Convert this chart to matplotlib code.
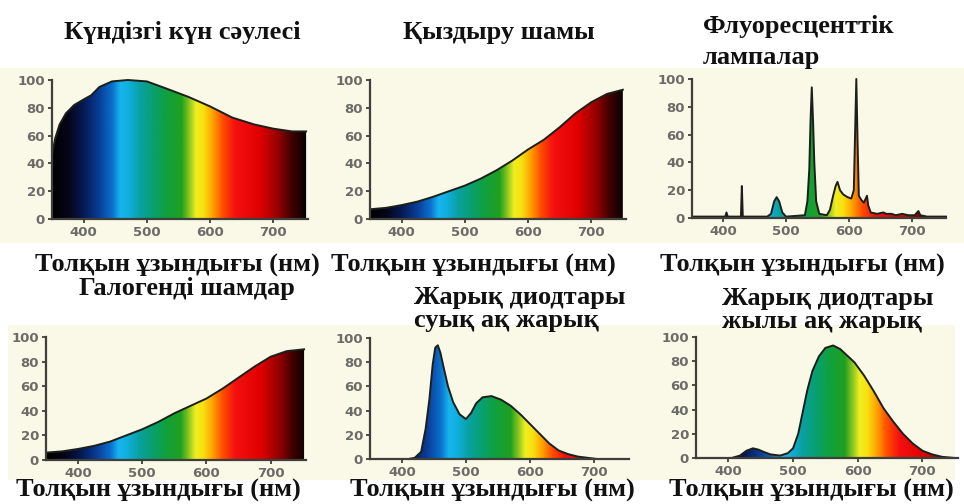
import matplotlib
matplotlib.use("Agg")
import matplotlib.pyplot as plt
import numpy as np
from matplotlib.colors import LinearSegmentedColormap
from matplotlib.patches import Rectangle

# spectra (wavelength nm, relative power %)
day_nm = [350, 355, 362, 372, 385, 400, 412, 425, 445, 470, 500, 530, 565, 600, 635, 670, 700, 730, 752]
day_val = [46, 58, 68, 76, 82, 86, 89, 95, 99, 100, 99, 94, 88, 81, 73, 68, 65, 63, 63]

inc_nm = [350, 375, 400, 425, 450, 475, 500, 525, 550, 575, 600, 625, 650, 675, 700, 725, 750]
inc_val = [7, 8, 10, 12.5, 16, 20, 24, 29, 35, 42, 50, 57, 66, 76, 84, 90, 93]

fl_nm = [350, 380, 400, 403, 405, 407, 428, 429.5, 431, 470, 476, 481, 485, 489, 494, 500,
         530, 534, 537, 539, 541, 543, 545, 548, 553, 565, 570, 575, 579, 582, 586, 591, 598,
         604, 608, 610, 612, 614, 616, 620, 624, 627, 629, 631, 635, 645, 655, 660, 668, 675,
         685, 695, 705, 711, 714, 725, 755]
fl_val = [1, 1, 1, 1, 4, 1, 1, 23, 1, 1, 3, 12, 15, 12, 4, 1,
          2, 12, 35, 70, 94, 70, 40, 12, 3, 2, 6, 16, 23, 26, 20, 17, 15,
          14, 20, 60, 100, 55, 16, 13, 11, 14, 16, 9, 4, 3, 4, 3, 3, 2,
          3, 2, 2, 5, 2, 1, 1]

hal_nm = [350, 375, 400, 425, 450, 475, 500, 525, 550, 575, 600, 625, 650, 675, 700, 725, 752]
hal_val = [6, 7, 9, 11.5, 15, 20, 25, 31, 38, 44, 50, 58, 67, 76, 84, 88.5, 90]

cool_nm = [350, 410, 420, 430, 437, 443, 448, 452, 456, 460, 465, 472, 480, 490, 500, 508, 516,
           526, 540, 555, 570, 585, 600, 615, 630, 645, 660, 675, 690, 705, 755]
cool_val = [0, 0, 1, 6, 25, 50, 78, 92, 94, 88, 76, 60, 47, 37, 33, 38, 46,
            51, 52, 49, 44, 37, 29, 21, 13, 7, 4, 2, 1, 0, 0]

warm_nm = [350, 405, 418, 428, 438, 446, 455, 465, 480, 492, 500, 508, 515, 522, 530, 540, 550,
           562, 573, 585, 595, 610, 625, 640, 655, 670, 685, 700, 715, 730, 750, 755]
warm_val = [0, 0, 2, 6, 8, 7, 5, 3, 2, 4, 8, 20, 38, 56, 72, 84, 91,
            93, 90, 84, 79, 68, 55, 41, 30, 20, 12, 6, 3, 1, 0, 0]

titles = ["Күндізгі күн сәулесі", "Қыздыру шамы", "Флуоресценттік\nлампалар",
          "Галогенді шамдар", "Жарық диодтары\nсуық ақ жарық", "Жарық диодтары\nжылы ақ жарық"]
xlabel = "Толқын ұзындығы (нм)"
xticks = [400, 500, 600, 700]
yticks = [0, 20, 40, 60, 80, 100]

spectra = [(day_nm, day_val), (inc_nm, inc_val), (fl_nm, fl_val),
           (hal_nm, hal_val), (cool_nm, cool_val), (warm_nm, warm_val)]

# rainbow of the fill, by wavelength
stops = [(350, "#000000"), (375, "#05051a"), (400, "#061a55"), (425, "#0a3f9a"), (445, "#0a70cc"),
         (458, "#18b4ee"), (470, "#10b0e0"), (490, "#0aa0a0"), (510, "#08a070"), (530, "#10a040"),
         (555, "#20a020"), (568, "#90c820"), (578, "#f0ee20"), (590, "#f8e010"), (605, "#ffa000"),
         (620, "#ff5000"), (640, "#f51010"), (680, "#e00000"), (710, "#900000"), (730, "#400000"),
         (755, "#000000")]
cmap = LinearSegmentedColormap.from_list(
    "spec", [((w - 350) / 405, c) for w, c in stops])
shift = [0, 0, 0, 5, 15, 25]

W, H = 964, 504
# axes boxes in pixels: left, y of 100, width, y of 0
boxes = [(52, 80, 256, 219), (370, 80, 256, 219), (692, 79, 254, 218),
         (46, 337, 260, 460), (370, 338, 259, 459), (696, 337, 262, 458)]

fig = plt.figure(figsize=(W / 100, H / 100), dpi=100)
fig.patch.set_facecolor("white")
cream = "#faf8e6"
fig.add_artist(Rectangle((0, 1 - 243 / H), 1, 175 / H, transform=fig.transFigure,
                         facecolor=cream, edgecolor="none", zorder=0))
fig.add_artist(Rectangle((8 / W, 1 - 480 / H), 947 / W, 155 / H, transform=fig.transFigure,
                         facecolor=cream, edgecolor="none", zorder=0))

serif = ["Liberation Serif", "DejaVu Serif"]
grey = "#6b6b68"

for i, (nm, val) in enumerate(spectra):
    l, t, w, b = boxes[i]
    ax = fig.add_axes([l / W, 1 - b / H, w / W, (b - t) / H])
    ax.set_facecolor("none")
    ax.set_xlim(350, 755)
    ax.set_ylim(0, 100)

    wl = np.linspace(350, 755, 800) - shift[i]
    img = ax.imshow(((wl - 350) / 405)[None, :], cmap=cmap, vmin=0, vmax=1, aspect="auto",
                    extent=(350, 755, 0, 100), origin="lower", zorder=1)
    poly = ax.fill_between(nm, 0, val, facecolor="none", edgecolor="none")
    img.set_clip_path(poly.get_paths()[0], transform=ax.transData)
    ax.plot(nm, val, color="#1c1f1a", lw=1.4, zorder=3, clip_on=False)

    for s in ["top", "right"]:
        ax.spines[s].set_visible(False)
    for s in ["left", "bottom"]:
        ax.spines[s].set_color("#3e3e3a")
        ax.spines[s].set_linewidth(1.6)
        ax.spines[s].set_zorder(4)
    ax.set_xticks(xticks)
    ax.set_yticks(yticks)
    ax.tick_params(length=3, width=1.3, color="#3e3e3a", labelcolor=grey, labelsize=9.5, pad=2)
    for lab in ax.get_xticklabels() + ax.get_yticklabels():
        lab.set_fontweight("bold")

tkw = dict(va="center", family=serif, fontweight="bold", fontsize=19, color="#111")
# titles
fig.text(182 / W, 1 - 33 / H, titles[0], ha="center", **tkw)
fig.text(499 / W, 1 - 33 / H, titles[1], ha="center", **tkw)
fig.text(703 / W, 1 - 42 / H, titles[2], ha="left", linespacing=1.4, **tkw)
fig.text(187 / W, 1 - 288 / H, titles[3], ha="center", **tkw)
fig.text(414 / W, 1 - 309 / H, titles[4], ha="left", linespacing=0.95, **tkw)
fig.text(722 / W, 1 - 310 / H, titles[5], ha="left", linespacing=0.95, **tkw)

# x labels
for x, y in [(177, 265), (473, 265), (802, 265), (158, 490), (492, 490), (811, 490)]:
    fig.text(x / W, 1 - y / H, xlabel, ha="center", **tkw)

fig.savefig("out.png", dpi=100)
